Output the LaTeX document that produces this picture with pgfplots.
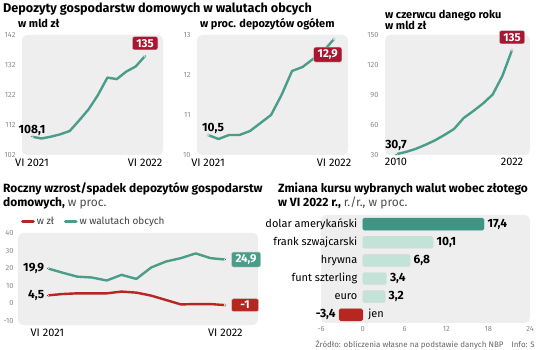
\documentclass[border=0pt]{standalone}
\usepackage{pgfplots}
\pgfplotsset{compat=1.18}
\usepackage{fontspec}
\setmainfont{Fira Sans}
\definecolor{teal1}{HTML}{4A9E89}
\definecolor{crim}{HTML}{A8172F}
\definecolor{red2}{HTML}{B5271F}
\definecolor{bgg}{HTML}{EEEEEE}
\definecolor{tickg}{HTML}{8A8A8A}
\definecolor{barlight}{HTML}{C3E3D8}
\definecolor{bardark}{HTML}{3F9583}
\pgfplotsset{
  panel/.style={
    scale only axis, anchor=south west,
    axis line style={draw=none}, tick style={draw=none},
    axis background/.style={fill=bgg, rounded corners=5bp},
    /pgf/number format/assume math mode=true,
    yticklabel style={font=\fontsize{7.5}{8}\selectfont, color=tickg, xshift=-3bp},
    xticklabel style={font=\fontsize{11}{12}\selectfont, color=black},
    clip=false,
  },
  dline/.style={teal1, line width=2.4bp, line join=round, mark=*, mark indices={1,13}, mark size=1.3bp,
     mark options={fill=black!75, draw=white, line width=0.5bp}},
}
\tikzset{
  blab/.style={font=\bfseries\fontsize{12}{13}\selectfont, inner sep=1bp},
  rbox/.style={font=\bfseries\fontsize{11.5}{12}\selectfont, text=white, fill=#1, draw=black!20, rounded corners=2bp, inner xsep=4bp, inner ysep=2.5bp},
  ttl/.style={font=\bfseries\fontsize{#1}{14}\selectfont, anchor=base west, inner sep=0},
  sub/.style={font=\bfseries\fontsize{11}{12}\selectfont, anchor=base west, inner sep=0},
  cat/.style={font=\fontsize{11}{12}\selectfont},
}
\begin{document}
\begin{tikzpicture}
\path[use as bounding box] (0,0) rectangle (536bp,350bp);
% titles
\node[ttl=12.7] at (3bp,337bp) {Depozyty gospodarstw domowych w walutach obcych};
\node[sub] at (18bp,322bp) {w mld zł};
\node[sub] at (200bp,322bp) {w proc. depozytów ogółem};
\node[sub] at (385bp,331bp) {w czerwcu danego roku};
\node[sub] at (385bp,320bp) {w mld zł};
\node[ttl=12] at (3bp,157bp) {Roczny wzrost/spadek depozytów gospodarstw};
\node[ttl=12] at (3bp,143bp) {domowych, {\mdseries\color{black!70}w proc.}};
\node[ttl=12] at (278bp,157bp) {Zmiana kursu wybranych walut wobec złotego};
\node[ttl=12] at (278bp,143bp) {w VI 2022 r., {\mdseries\color{black!70}r./r., w proc.}};
\node[font=\fontsize{8}{9}\selectfont, color=black!60, anchor=base east, inner sep=0] at (535bp,3bp) {Źródło: obliczenia własne na podstawie danych NBP\quad Info: S};

% panel 1
\begin{axis}[panel, at={(22bp,195bp)}, width=141bp, height=120bp,
  xmin=-1.06, xmax=13.9, ymin=102, ymax=142, ytick={102,112,122,132,142},
  xtick={0,12}, xticklabels={VI 2021, VI 2022}]
\addplot[dline] coordinates {(0,108.1)(1,107.5)(2,108.1)(3,108.9)(4,110)(5,113.5)(6,117.2)(7,122)(8,127.8)(9,127.3)(10,129.8)(11,131.5)(12,135)};
\node[blab, anchor=south] at (axis cs:0,108.1) {108,1};
\node[rbox=crim, anchor=south, yshift=6bp] at (axis cs:12,135) {135};
\end{axis}

% panel 2
\begin{axis}[panel, at={(197bp,195bp)}, width=151bp, height=120bp,
  xmin=-1.05, xmax=13.33, ymin=10, ymax=13, ytick={10,11,12,13},
  xtick={0,12}, xticklabels={VI 2021, VI 2022}]
\addplot[dline] coordinates {(0,10.5)(1,10.4)(2,10.5)(3,10.5)(4,10.6)(5,10.8)(6,11.0)(7,11.5)(8,12.1)(9,12.2)(10,12.4)(11,12.6)(12,12.9)};
\node[blab, anchor=south, xshift=5bp] at (axis cs:0,10.5) {10,5};
\node[rbox=crim, anchor=north east, xshift=8bp, yshift=-8bp] at (axis cs:12,12.9) {12,9};
\end{axis}

% panel 3
\begin{axis}[panel, at={(385bp,195bp)}, width=145bp, height=120bp,
  xmin=2008.86, xmax=2023.86, ymin=30, ymax=150, ytick={30,60,90,120,150},
  xtick={2010,2022}, xticklabels={2010,2022}]
\addplot[dline] coordinates {(2010,30.7)(2011,33)(2012,36)(2013,40)(2014,44.5)(2015,50)(2016,56)(2017,67)(2018,74)(2019,81.5)(2020,90.5)(2021,109)(2022,135)};
\node[blab, anchor=south, yshift=2bp] at (axis cs:2010,30.7) {30,7};
\node[rbox=crim, anchor=south, yshift=6bp] at (axis cs:2022,135) {135};
\end{axis}

% panel 4
\begin{axis}[panel, at={(18bp,25bp)}, width=240bp, height=92bp,
  xmin=-1.98, xmax=14.2, ymin=-12.3, ymax=40, ytick={-10,0,10,20,30,40},
  yticklabel style={xshift=2bp},
  xtick={0,12}, xticklabels={VI 2021, VI 2022},
  legend style={at={(0.0,1.03)}, anchor=south west, legend columns=2, draw=none, fill=none,
    font=\fontsize{10}{11}\selectfont, text=black!75,
    /tikz/every even column/.append style={column sep=8bp}},
  legend image code/.code={\draw[line width=2.6bp, line cap=round] (0bp,0bp) -- (11bp,0bp);}]
\addplot[red2, line width=2.4bp, line join=round, mark=*, mark indices={1,13}, mark size=1.3bp,
     mark options={fill=black!75, draw=white, line width=0.5bp}] coordinates {(0,4.5)(1,5.3)(2,5.7)(3,5.7)(4,5.7)(5,6.7)(6,6.1)(7,4.4)(8,1.9)(9,-0.6)(10,-0.4)(11,-0.4)(12,-1)};
\addlegendentry{w zł}
\addplot[dline] coordinates {(0,19.9)(1,17.5)(2,15.2)(3,14.7)(4,13)(5,16.2)(6,13.9)(7,20.4)(8,23.8)(9,25.7)(10,28.4)(11,25.7)(12,24.9)};
\addlegendentry{w walutach obcych}
\node[blab, anchor=east, xshift=-2bp] at (axis cs:0,19.9) {19,9};
\node[blab, anchor=east, xshift=-2bp] at (axis cs:0,4.5) {4,5};
\node[rbox=teal1, anchor=west, xshift=6bp, minimum width=27bp] at (axis cs:12,24.9) {24,9};
\node[rbox=red2, anchor=west, xshift=6bp, minimum width=27bp] at (axis cs:12,-1) {-1};
\end{axis}

% panel 5
\begin{axis}[panel, at={(321bp,27bp)}, width=209bp, height=108bp,
  xmin=-6, xmax=24, ymin=-0.45, ymax=5.5, ytick=\empty,
  xtick={-6,0,6,12,18,24},
  xticklabel style={font=\fontsize{7.5}{8}\selectfont, color=tickg},
  xbar, bar width=0.66, bar shift=0pt,
  nodes near coords={\pgfmathprintnumber[use comma, fixed, fixed zerofill, precision=1]{\pgfplotspointmeta}},
  every node near coord/.append style={font=\bfseries\fontsize{12}{13}\selectfont, color=black, anchor=west}]
\addplot[fill=bardark, draw=bardark, rounded corners=1.5bp] coordinates {(17.4,5)};
\addplot[fill=barlight, draw=black!15, rounded corners=1.5bp] coordinates {(10.1,4)(6.8,3)(3.4,2)(3.2,1)};
\addplot[fill=red2, draw=red2, rounded corners=1.5bp, every node near coord/.append style={anchor=east}] coordinates {(-3.4,0)};
\node[cat, anchor=east, xshift=-2bp] at (axis cs:0,5) {dolar amerykański};
\node[cat, anchor=east, xshift=-2bp] at (axis cs:0,4) {frank szwajcarski};
\node[cat, anchor=east, xshift=-2bp] at (axis cs:0,3) {hrywna};
\node[cat, anchor=east, xshift=-2bp] at (axis cs:0,2) {funt szterling};
\node[cat, anchor=east, xshift=-2bp] at (axis cs:0,1) {euro};
\node[cat, anchor=west, xshift=2bp] at (axis cs:0,0) {jen};
\end{axis}
\end{tikzpicture}
\end{document}
